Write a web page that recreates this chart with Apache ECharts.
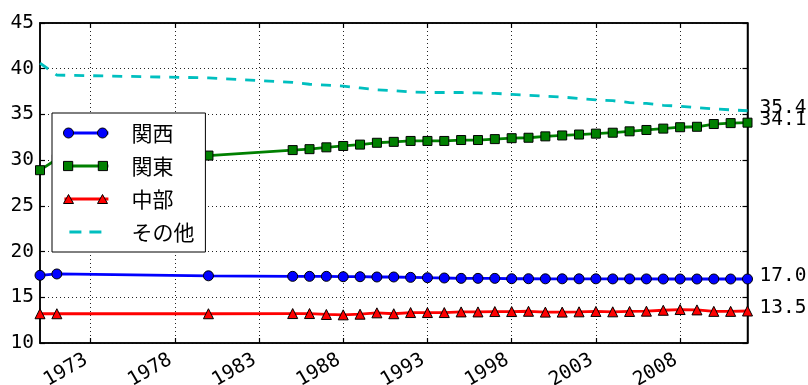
<!DOCTYPE html>
<html><head><meta charset="utf-8">
<script src="https://cdn.jsdelivr.net/npm/echarts@6/dist/echarts.min.js"></script>
<style>html,body{margin:0;padding:0;background:#fff}#c{width:808px;height:385px}</style>
</head><body><div id="c"></div>
<script>
// ---- data ----
const years = [1970, 1971, 1980, 1985, 1986, 1987, 1988, 1989, 1990, 1991, 1992, 1993, 1994, 1995, 1996, 1997, 1998, 1999, 2000, 2001, 2002, 2003, 2004, 2005, 2006, 2007, 2008, 2009, 2010, 2011, 2012];
const kansai = [17.4, 17.55, 17.35, 17.29, 17.29, 17.29, 17.25, 17.25, 17.22, 17.22, 17.18, 17.14, 17.11, 17.07, 17.07, 17.07, 17.03, 17.03, 17.02, 17.02, 17.02, 17.02, 17.01, 17.01, 17.01, 17.0, 17.0, 17.0, 17.0, 17.0, 17.0];
const kanto = [28.9, 30.1, 30.5, 31.1, 31.2, 31.4, 31.55, 31.7, 31.9, 32.0, 32.1, 32.1, 32.1, 32.2, 32.2, 32.3, 32.4, 32.45, 32.6, 32.7, 32.8, 32.9, 33.0, 33.15, 33.3, 33.45, 33.6, 33.65, 33.95, 34.05, 34.1];
const chubu = [13.2, 13.2, 13.2, 13.22, 13.22, 13.12, 13.08, 13.15, 13.3, 13.2, 13.33, 13.33, 13.33, 13.4, 13.4, 13.44, 13.44, 13.47, 13.38, 13.38, 13.41, 13.45, 13.41, 13.45, 13.48, 13.58, 13.66, 13.62, 13.46, 13.46, 13.5];
const other = [40.6, 39.3, 39.0, 38.5, 38.3, 38.2, 38.1, 37.9, 37.7, 37.6, 37.45, 37.4, 37.4, 37.4, 37.35, 37.3, 37.2, 37.1, 37.0, 36.9, 36.75, 36.6, 36.5, 36.3, 36.2, 36.0, 35.9, 35.75, 35.6, 35.5, 35.4];
const seriesNames = ['関西', '関東', '中部', 'その他'];
const xTickValues = [1973, 1978, 1983, 1988, 1993, 1998, 2003, 2008];
const xMin = 1970, xMax = 2012;
const yMin = 10, yMax = 45, yStep = 5;

// ---- styling ----
const NUM_FONT = 'DejaVu Sans Mono';
const JP_FONT = 'Noto Sans CJK JP';
const pair = arr => years.map((y, i) => [y, arr[i]]);

const CIRCLE_PATH = 'path://M0,5A5,5,0,1,1,10,5A5,5,0,1,1,0,5ZM34,5A5,5,0,1,1,44,5A5,5,0,1,1,34,5Z';
const RECT_PATH = 'path://M0.5,0.5L9.5,0.5L9.5,9.5L0.5,9.5ZM34.5,0.5L43.5,0.5L43.5,9.5L34.5,9.5Z';
const TRI_PATH = 'path://M5,0L10,9L0,9ZM39,0L44,9L34,9Z';

const gridLine = {show: true, lineStyle: {color: '#222', type: [1, 3], width: 1}};
const axisLineStyle = {show: true, lineStyle: {color: '#000', width: 1.5}};

function xAxisCfg(pos, labels) {
  return {
    type: 'value', position: pos, min: xMin, max: xMax,
    axisLine: axisLineStyle,
    axisTick: {show: true, inside: true, length: 5, customValues: xTickValues, lineStyle: {color: '#000', width: 1.2}},
    axisLabel: {show: labels, customValues: xTickValues, rotate: 30, margin: 13, padding: [0, 5, 0, 0],
      fontFamily: NUM_FONT, fontSize: 19.5, color: '#000', formatter: v => String(v)},
    splitLine: labels ? gridLine : {show: false}
  };
}
function yAxisCfg(pos, labels) {
  return {
    type: 'value', position: pos, min: yMin, max: yMax, interval: yStep,
    axisLine: axisLineStyle,
    axisTick: {show: true, inside: true, length: 5, lineStyle: {color: '#000', width: 1.2}},
    axisLabel: {show: labels, margin: 6, fontFamily: NUM_FONT, fontSize: 19.5, color: '#000'},
    splitLine: labels ? gridLine : {show: false}
  };
}

const endLabel = {show: true, formatter: p => p.value[1].toFixed(1), distance: 12, offset: [0, -3],
  color: '#000', fontFamily: NUM_FONT, fontSize: 19.5};

function lineSeries(name, arr, color, symbol, size, extra) {
  return Object.assign({
    name, type: 'line', data: pair(arr), xAxisIndex: 0, yAxisIndex: 0,
    symbol, symbolSize: size, showSymbol: symbol !== 'none',
    itemStyle: {color, borderColor: '#000', borderWidth: 1},
    lineStyle: {color, width: 2.8},
    endLabel, emphasis: {disabled: true}, silent: true
  }, extra || {});
}

const legendBase = {
  orient: 'vertical', left: 52, top: 113, padding: [9.5, 11, 9.5, 11],
  itemWidth: 44, itemHeight: 10, itemGap: 12, selectedMode: false,
  textStyle: {fontFamily: JP_FONT, fontSize: 21, lineHeight: 21, color: '#000', padding: [0, 0, 0, 18]}
};

const option = {
  animation: false,
  backgroundColor: '#fff',
  grid: {left: 40, right: 60.5, top: 23, bottom: 42, show: true, borderColor: '#000', borderWidth: 1.5,
    containLabel: false, outerBoundsMode: 'none'},
  xAxis: [xAxisCfg('bottom', true), xAxisCfg('top', false)],
  yAxis: [yAxisCfg('left', true), yAxisCfg('right', false)],
  legend: [
    Object.assign({}, legendBase, {
      id: 'lgLines', z: 5, backgroundColor: '#fff', borderColor: '#000', borderWidth: 1, borderRadius: 0,
      itemStyle: {opacity: 0}, lineStyle: {width: 2.8},
      data: seriesNames.map((n, i) => i === 3 ? {name: n, lineStyle: {type: [0, 5, 12, 8, 12, 100]}} : {name: n})
    }),
    Object.assign({}, legendBase, {
      id: 'lgMarkers', z: 6, backgroundColor: 'transparent', borderWidth: 0,
      textStyle: Object.assign({}, legendBase.textStyle, {color: 'rgba(0,0,0,0)'}),
      itemStyle: {borderColor: '#000', borderWidth: 1},
      data: [
        {name: seriesNames[0], icon: CIRCLE_PATH},
        {name: seriesNames[1], icon: RECT_PATH},
        {name: seriesNames[2], icon: TRI_PATH},
        {name: seriesNames[3], icon: RECT_PATH, itemStyle: {opacity: 0}}
      ]
    })
  ],
  series: [
    lineSeries(seriesNames[0], kansai, '#0000ff', 'circle', 10),
    lineSeries(seriesNames[1], kanto, '#008000', 'rect', 9),
    lineSeries(seriesNames[2], chubu, '#ff0000', 'triangle', 10),
    lineSeries(seriesNames[3], other, '#00bfbf', 'none', 0, {lineStyle: {color: '#00bfbf', width: 2.8, type: [10, 9]}})
  ]
};

const chart = echarts.init(document.getElementById('c'), null, {renderer: 'canvas'});
chart.setOption(option);
</script>
</body></html>
